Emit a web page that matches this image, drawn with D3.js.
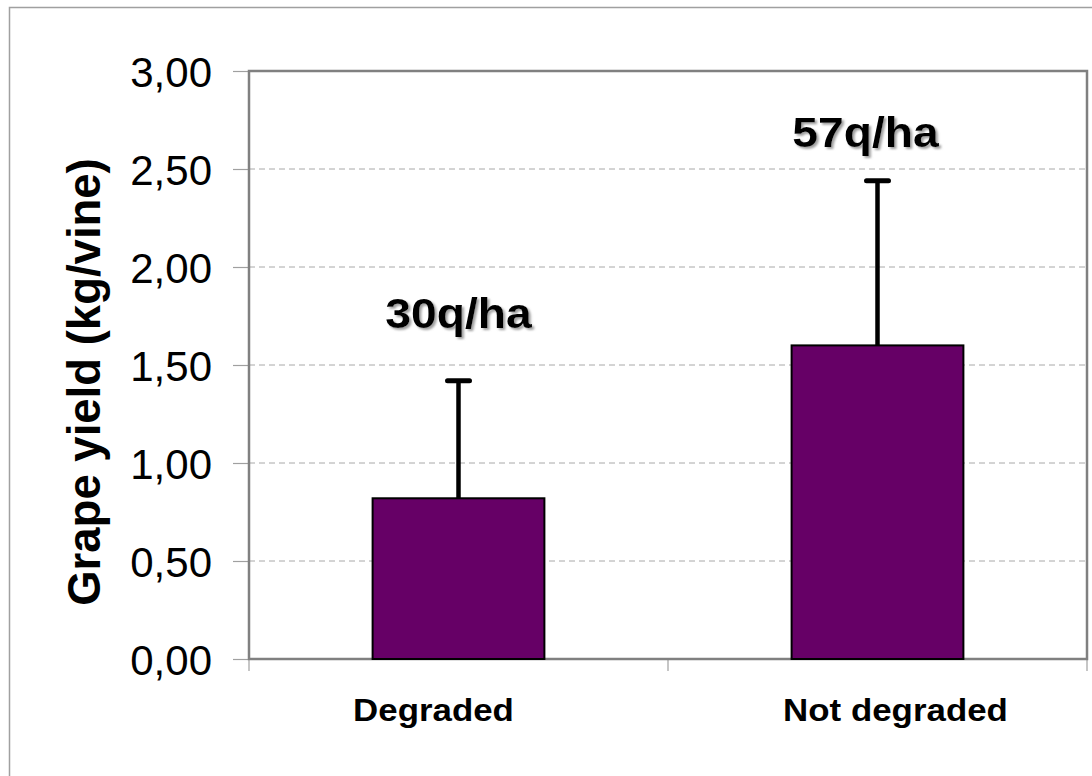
<!DOCTYPE html>
<html>
<head>
<meta charset="utf-8">
<script src="https://cdn.jsdelivr.net/npm/d3@7"></script>
<style>
  html, body { margin: 0; padding: 0; background: #fff; }
  svg { display: block; }
  text { font-family: "Liberation Sans", Arial, sans-serif; }
</style>
</head>
<body>
<svg id="chart" width="1092" height="776"></svg>
<script>
// ---- data ----
const categories = ["Degraded", "Not degraded"];
const yieldValues = [0.82, 1.60];       // kg/vine
const errorTops = [1.42, 2.44];         // top of error bar (kg/vine)
const yieldLabels = ["30q/ha", "57q/ha"];
const labelAnchors = [1.69, 2.61];      // y (kg/vine) of annotation baseline
const yTicks = [0, 0.5, 1.0, 1.5, 2.0, 2.5, 3.0];
const yTitle = "Grape yield (kg/vine)";

// ---- layout ----
const svg = d3.select("#chart");
const plot = { left: 249, right: 1087, top: 71, bottom: 659 };
const catLabelDx = [-25, 18];
const annotDx = [0, -12];

const defs = svg.append("defs");
const f = defs.append("filter").attr("id", "shadow").attr("x", "-10%").attr("y", "-20%")
  .attr("width", "130%").attr("height", "150%");
f.append("feDropShadow").attr("dx", 2).attr("dy", 2).attr("stdDeviation", 0.8)
  .attr("flood-color", "#888").attr("flood-opacity", 0.8);

const x = d3.scaleBand().domain(categories)
  .range([plot.left, plot.right]).paddingInner(0.59).paddingOuter(0.295);
const xCat = d3.scaleBand().domain(categories).range([plot.left, plot.right]);
const y = d3.scaleLinear().domain([0, 3]).range([plot.bottom, plot.top]);
const fmt = d => d3.format(".2f")(d).replace(".", ",");

// outer frame
svg.append("rect").attr("x", 9.5).attr("y", 7.5).attr("width", 1100).attr("height", 800)
  .attr("fill", "none").attr("stroke", "#a0a0a0").attr("stroke-width", 1.5);

// gridlines
svg.append("g").selectAll("line").data(yTicks.filter(t => t > 0 && t < 3)).join("line")
  .attr("x1", plot.left).attr("x2", plot.right)
  .attr("y1", d => y(d)).attr("y2", d => y(d))
  .attr("stroke", "#a8a8a8").attr("stroke-width", 1).attr("stroke-dasharray", "6,4");

// y axis
const yAxis = svg.append("g").attr("transform", `translate(${plot.left},0)`)
  .call(d3.axisLeft(y).tickValues(yTicks).tickFormat(fmt).tickSize(16).tickPadding(21));
yAxis.select(".domain").remove();
yAxis.selectAll(".tick line").attr("stroke", "#a0a0a0").attr("stroke-width", 1.2);
yAxis.selectAll(".tick text").attr("font-size", 42).attr("fill", "#000")
  .attr("font-family", "'Liberation Sans', Arial, sans-serif").attr("dy", "0.38em");

// x axis (category ticks at boundaries)
const xBounds = [plot.left, ...categories.map(c => xCat(c) + xCat.bandwidth())];
svg.append("g").selectAll("line").data(xBounds).join("line")
  .attr("x1", d => d).attr("x2", d => d).attr("y1", plot.bottom).attr("y2", plot.bottom + 12)
  .attr("stroke", "#a0a0a0").attr("stroke-width", 1.2);

// plot border
svg.append("rect").attr("x", plot.left).attr("y", plot.top)
  .attr("width", plot.right - plot.left).attr("height", plot.bottom - plot.top)
  .attr("fill", "none").attr("stroke", "#808080").attr("stroke-width", 2.5);

// bars
svg.append("g").selectAll("rect").data(categories).join("rect")
  .attr("x", d => x(d)).attr("width", x.bandwidth())
  .attr("y", (d, i) => y(yieldValues[i]))
  .attr("height", (d, i) => y(0) - y(yieldValues[i]))
  .attr("fill", "#660066").attr("stroke", "#000").attr("stroke-width", 2);

// error bars
const eb = svg.append("g").attr("stroke", "#000").attr("stroke-width", 4.5);
categories.forEach((c, i) => {
  const cx = x(c) + x.bandwidth() / 2;
  eb.append("line").attr("x1", cx).attr("x2", cx)
    .attr("y1", y(yieldValues[i])).attr("y2", y(errorTops[i]));
  eb.append("line").attr("x1", cx - 11).attr("x2", cx + 11)
    .attr("y1", y(errorTops[i])).attr("y2", y(errorTops[i]))
    .attr("stroke-linecap", "round").attr("stroke-width", 5);
});

// yield annotations
categories.forEach((c, i) => {
  const cx = x(c) + x.bandwidth() / 2 + annotDx[i];
  svg.append("text").attr("transform", `translate(${cx},${y(labelAnchors[i])}) scale(1.1,1)`)
    .attr("text-anchor", "middle").attr("filter", "url(#shadow)")
    .attr("font-size", 42).attr("font-weight", "bold").attr("fill", "#000").text(yieldLabels[i]);
});

// category labels
categories.forEach((c, i) => {
  const cx = xCat(c) + xCat.bandwidth() / 2 + catLabelDx[i];
  svg.append("text").attr("transform", `translate(${cx},721) scale(1.09,1)`)
    .attr("text-anchor", "middle").attr("font-size", 32).attr("font-weight", "bold")
    .attr("fill", "#000").text(c);
});

// y title
svg.append("text").attr("transform", "translate(100,382) rotate(-90)")
  .attr("text-anchor", "middle").attr("font-size", 45.5).attr("font-weight", "bold")
  .attr("fill", "#000").text(yTitle);
</script>
</body>
</html>
